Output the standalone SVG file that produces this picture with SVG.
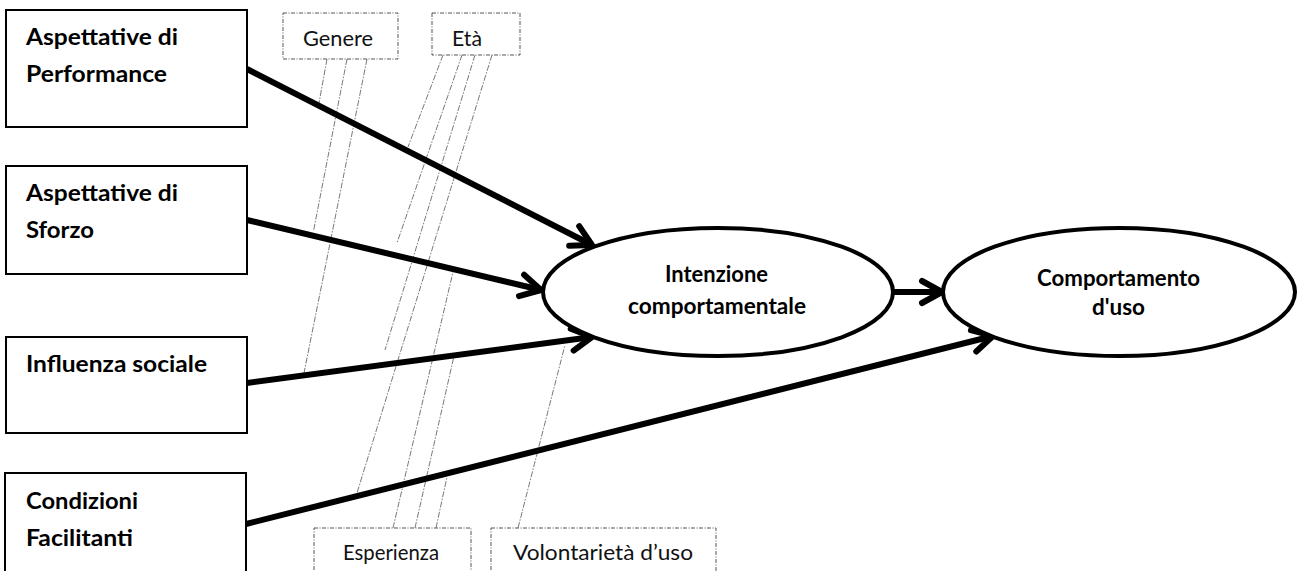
<svg xmlns="http://www.w3.org/2000/svg" width="1298" height="571" viewBox="0 0 1298 571">
<defs>
<style>
.box{fill:#fff;stroke:#000;stroke-width:2}
.ell{fill:#fff;stroke:#000;stroke-width:4}
.mod{fill:#fff;stroke:#555;stroke-width:1;stroke-dasharray:4 1.5 1 1.5}
.lbl{font-family:Lato,'Liberation Sans',sans-serif;font-weight:bold;font-size:23px;fill:#000}
.mlbl{font-family:Lato,'Liberation Sans',sans-serif;font-size:22px;fill:#111}
.arr{stroke:#000;stroke-width:6;fill:none;marker-end:url(#ah)}
.thin{stroke:#555;stroke-width:0.8;fill:none;stroke-dasharray:6 1.5 1.5 1.5}
</style>
<marker id="ah" markerUnits="userSpaceOnUse" markerWidth="60" markerHeight="60" viewBox="-30 -30 60 60" refX="0" refY="0" orient="auto" overflow="visible">
<path d="M-20,-11 L0,0 L-20,11" fill="none" stroke="#000" stroke-width="6" stroke-linecap="round" stroke-linejoin="round"/>
</marker>
</defs>
<rect width="1298" height="571" fill="#fff"/>
<g id="connectors">
<g id="moderator-lines">
<path class="thin" d="M327,59 L319,103"/>
<path class="thin" d="M347,59 L313.5,231"/>
<path class="thin" d="M367,59 L304,373"/>
<path class="thin" d="M443,55 L408,147"/>
<path class="thin" d="M462,55 L397,243"/>
<path class="thin" d="M475,55 L385,350"/>
<path class="thin" d="M492,55 L357,493"/>
<path class="thin" d="M393,528 L453,272"/>
<path class="thin" d="M415,528 L454,356"/>
<path class="thin" d="M436,528 L447,477"/>
<path class="thin" d="M518,528 L565,345"/>
</g>
<path class="arr" d="M247,69 L592,245"/>
<path class="arr" d="M247,220 L541,290"/>
<path class="arr" d="M247,383 L592,337"/>
<path class="arr" d="M246,524 L993,336"/>
<path class="arr" d="M893,292 L942,292"/>
</g>
<g id="pe">
<rect class="box" x="6" y="10" width="241" height="117"/>
<text class="lbl" x="26" y="45" textLength="152" lengthAdjust="spacingAndGlyphs">Aspettative di</text>
<text class="lbl" x="26" y="82" textLength="141" lengthAdjust="spacingAndGlyphs">Performance</text>
</g>
<g id="ee">
<rect class="box" x="6" y="166" width="241" height="108"/>
<text class="lbl" x="26" y="201" textLength="152" lengthAdjust="spacingAndGlyphs">Aspettative di</text>
<text class="lbl" x="26" y="238" textLength="68" lengthAdjust="spacingAndGlyphs">Sforzo</text>
</g>
<g id="si">
<rect class="box" x="6" y="337" width="241" height="96"/>
<text class="lbl" x="26" y="372" textLength="181" lengthAdjust="spacingAndGlyphs">Influenza sociale</text>
</g>
<g id="fc">
<rect class="box" x="5" y="473" width="241" height="110"/>
<text class="lbl" x="26" y="509" textLength="112" lengthAdjust="spacingAndGlyphs">Condizioni</text>
<text class="lbl" x="26" y="546" textLength="107" lengthAdjust="spacingAndGlyphs">Facilitanti</text>
</g>
<g id="bi">
<ellipse class="ell" cx="718" cy="292" rx="175" ry="64"/>
<text class="lbl" x="665" y="282" textLength="103" lengthAdjust="spacingAndGlyphs">Intenzione</text>
<text class="lbl" x="628" y="314" textLength="178" lengthAdjust="spacingAndGlyphs">comportamentale</text>
</g>
<g id="ub">
<ellipse class="ell" cx="1119" cy="292" rx="176" ry="64"/>
<text class="lbl" x="1037" y="286" textLength="163" lengthAdjust="spacingAndGlyphs">Comportamento</text>
<text class="lbl" x="1092" y="315" textLength="53" lengthAdjust="spacingAndGlyphs">d'uso</text>
</g>
<g id="genere">
<rect class="mod" x="283" y="13" width="115" height="46"/>
<text class="mlbl" x="303" y="46" textLength="70" lengthAdjust="spacingAndGlyphs">Genere</text>
</g>
<g id="eta">
<rect class="mod" x="432" y="13" width="88" height="42"/>
<text class="mlbl" x="452" y="46" textLength="30" lengthAdjust="spacingAndGlyphs">Età</text>
</g>
<g id="esperienza">
<rect class="mod" x="314" y="528" width="157" height="60"/>
<text class="mlbl" x="343" y="560" textLength="96" lengthAdjust="spacingAndGlyphs">Esperienza</text>
</g>
<g id="volontarieta">
<rect class="mod" x="491" y="528" width="225" height="60"/>
<text class="mlbl" x="513" y="560" textLength="180" lengthAdjust="spacingAndGlyphs">Volontarietà d’uso</text>
</g>
</svg>
